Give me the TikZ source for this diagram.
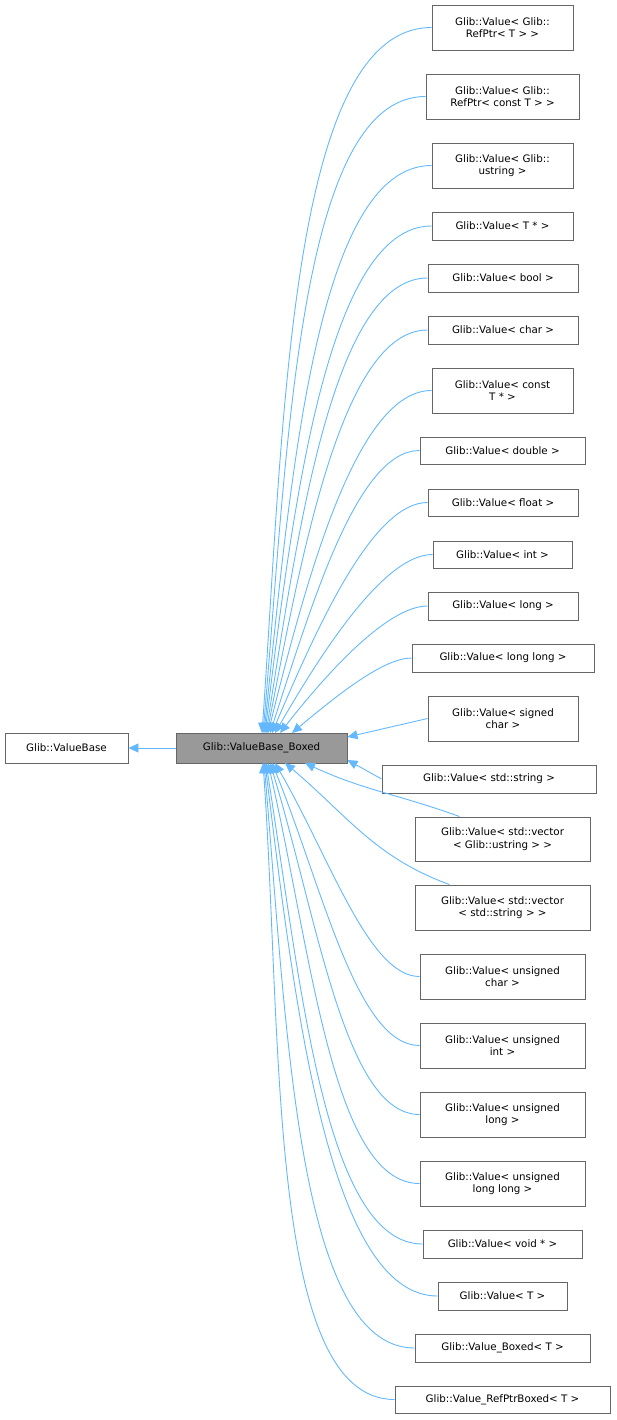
\documentclass[tikz,border=0pt]{standalone}
\usepackage{fontspec}
\setmainfont{DejaVu Sans}
\usetikzlibrary{arrows.meta}
\definecolor{edge}{HTML}{63B8FF}
\begin{document}
\begin{tikzpicture}[x=1pt,y=-1pt,
  box/.style={draw=black!60,fill=white,inner sep=0pt,align=center,font=\fontsize{10.3}{12.5}\selectfont,line width=0.9pt},
  inh/.style={draw=edge,line width=0.9pt,-{Triangle[length=10pt,width=9pt,fill=edge]}}]
\useasboundingbox (0,0) rectangle (617,1420);
\newcommand{\bx}[6]{\node[box,minimum width=#4-#3,minimum height=#6-#5] (#1) at ({(#3+#4)/2},{(#5+#6)/2}) {#2};}
\bx{base}{Glib::ValueBase}{5}{128}{733}{763}
\node[box,fill=black!40,minimum width=171,minimum height=30] (boxed) at (261.5,748) {Glib::ValueBase\_Boxed};
\bx{n1}{Glib::Value< Glib::\\RefPtr< T > >}{432}{573}{5}{50}
\bx{n2}{Glib::Value< Glib::\\RefPtr< const T > >}{426}{579}{74}{119}
\bx{n3}{Glib::Value< Glib::\\ustring >}{432}{573}{143}{188}
\bx{n4}{Glib::Value< T * >}{432}{573}{212}{240}
\bx{n5}{Glib::Value< bool >}{428}{578}{264}{292}
\bx{n6}{Glib::Value< char >}{428}{578}{316}{344}
\bx{n7}{Glib::Value< const\\T * >}{432}{573}{368}{413}
\bx{n8}{Glib::Value< double >}{420}{585}{437}{464}
\bx{n9}{Glib::Value< float >}{428}{578}{489}{516}
\bx{n10}{Glib::Value< int >}{433}{572}{541}{568}
\bx{n11}{Glib::Value< long >}{428}{578}{592}{620}
\bx{n12}{Glib::Value< long long >}{412}{594}{644}{672}
\bx{n13}{Glib::Value< signed\\char >}{428}{578}{696}{741}
\bx{n14}{Glib::Value< std::string >}{382}{596}{765}{793}
\bx{n15}{Glib::Value< std::vector\\< Glib::ustring > >}{415}{590}{817}{861}
\bx{n16}{Glib::Value< std::vector\\< std::string > >}{415}{590}{885}{930}
\bx{n17}{Glib::Value< unsigned\\char >}{420}{585}{954}{999}
\bx{n18}{Glib::Value< unsigned\\int >}{420}{585}{1023}{1068}
\bx{n19}{Glib::Value< unsigned\\long >}{420}{585}{1092}{1137}
\bx{n20}{Glib::Value< unsigned\\long long >}{420}{585}{1161}{1206}
\bx{n21}{Glib::Value< void * >}{423}{582}{1230}{1258}
\bx{n22}{Glib::Value< T >}{438}{567}{1282}{1310}
\bx{n23}{Glib::Value\_Boxed< T >}{415}{590}{1334}{1362}
\bx{n24}{Glib::Value\_RefPtrBoxed< T >}{395}{610}{1386}{1413}
\draw[inh] (boxed) -- (base);
\foreach \n/\x/\a in {n1/262/86,n2/263/85,n3/264/84,n4/265/83,n5/266/81,n6/267/79,n7/268/76,n8/270/72,n9/272/67,n10/275/60,n11/280/52,n12/292/40}
  \draw[inh] (\n.west) to[out=180,in=\a,out looseness=0.5,in looseness=1.1] (\x,733);
\draw[inh] (n13.west) -- (boxed.east |- 0,737);
\draw[inh] (n14.west) -- (boxed.east |- 0,760);
\draw[inh] (n15.north west) ++(45,0) to[out=160,in=-25] (305,763);
\draw[inh] (n16.north west) ++(35,0) to[out=160,in=-40] (285,763);
\foreach \n/\x/\a in {n17/275/-60,n18/272/-68,n19/270/-73,n20/268/-77,n21/266/-81,n22/265/-83,n23/264/-85,n24/263/-86}
  \draw[inh] (\n.west) to[out=180,in=\a,out looseness=0.5,in looseness=1.1] (\x,763);
\end{tikzpicture}
\end{document}
